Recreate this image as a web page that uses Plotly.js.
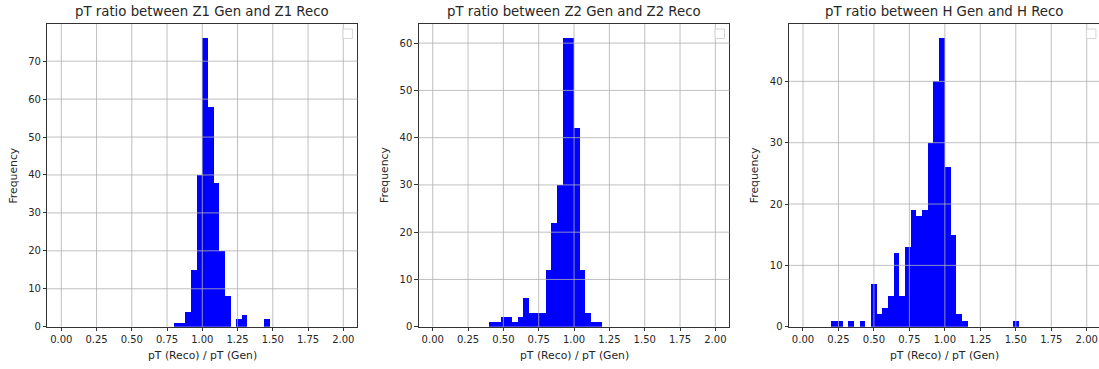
<!DOCTYPE html>
<html>
<head>
<meta charset="utf-8">
<script src="https://cdn.plot.ly/plotly-3.0.1.min.js"></script>
<style>
html,body{margin:0;padding:0;overflow:hidden;background:#fff;}
#chart{width:1102px;height:369px;}
</style>
</head>
<body>
<div id="chart"></div>
<script>
// ---- data (bin left edges and counts) ----
var titles = ["pT ratio between Z1 Gen and Z1 Reco",
              "pT ratio between Z2 Gen and Z2 Reco",
              "pT ratio between H Gen and H Reco"];
var xLabel = "pT (Reco) / pT (Gen)";
var yLabel = "Frequency";

var z1Bins   = [0.80,0.84,0.88,0.92,0.96,1.00,1.04,1.08,1.12,1.16,1.24,1.28,1.44];
var z1Counts = [1,1,4,15,40,76,58,38,20,8,2,3,2];

var z2Bins   = [0.40,0.44,0.48,0.52,0.56,0.60,0.64,0.68,0.72,0.76,0.80,0.84,0.88,0.92,0.96,1.00,1.04,1.08,1.12,1.16];
var z2Counts = [1,1,2,2,1,2,6,3,3,3,12,22,30,61,61,42,12,3,1,1];

var hBins    = [0.20,0.24,0.32,0.40,0.48,0.52,0.56,0.60,0.64,0.68,0.72,0.76,0.80,0.84,0.88,0.92,0.96,1.00,1.04,1.08,1.12,1.48];
var hCounts  = [1,1,1,1,7,2,3,5,12,5,13,19,18,19,30,40,47,26,15,2,1,1];

var xTicks  = [0,0.25,0.5,0.75,1,1.25,1.5,1.75,2];
var z1YTicks = [0,10,20,30,40,50,60,70];
var z2YTicks = [0,10,20,30,40,50,60];
var hYTicks  = [0,10,20,30,40];

// ---- layout ----
var W = 1102, H = 369;
var binWidth = 0.04;
var series = [
  {bins:z1Bins, counts:z1Counts, yt:z1YTicks, dom:[47.2,357.4]},
  {bins:z2Bins, counts:z2Counts, yt:z2YTicks, dom:[418.6,729.5]},
  {bins:hBins,  counts:hCounts,  yt:hYTicks,  dom:[788.8,1100.9]}
];
var yTop = 24, yBot = 326.7;
var ydom = [(H - yBot)/H, (H - yTop)/H];
var txtColor = '#262626';
var font = 'DejaVu Sans, sans-serif';

var data = [], shapes = [], annotations = [];
var layout = {
  width: W, height: H,
  margin: {l:0, r:0, t:0, b:0, pad:0},
  paper_bgcolor: '#fff', plot_bgcolor: '#fff',
  showlegend: false,
  bargap: 0,
  font: {family: font, color: txtColor, size: 10}
};

series.forEach(function(s, i){
  var sfx = i === 0 ? '' : String(i+1);
  var maxC = Math.max.apply(null, s.counts);
  data.push({
    type: 'bar', x: s.bins, y: s.counts,
    xaxis: 'x'+sfx, yaxis: 'y'+sfx,
    width: binWidth, offset: 0,
    marker: {color: '#0000ff', line: {width: 0}},
    hoverinfo: 'skip'
  });
  var common = {
    showline: true, mirror: true, linecolor: '#000', linewidth: 0.8,
    ticks: 'outside', ticklen: 3.5, tickwidth: 0.8, tickcolor: '#000',
    showgrid: false, zeroline: false, automargin: false,
    tickfont: {family: font, size: 10, color: txtColor},
    fixedrange: true
  };
  layout['xaxis'+sfx] = Object.assign({}, common, {
    domain: [s.dom[0]/W, s.dom[1]/W], anchor: 'y'+sfx,
    range: [-0.1, 2.1], tickmode: 'array', tickvals: xTicks,
    ticktext: xTicks.map(function(v){return v.toFixed(2);})
  });
  layout['yaxis'+sfx] = Object.assign({}, common, {
    domain: ydom, anchor: 'x'+sfx,
    range: [0, maxC*1.05], tickmode: 'array', tickvals: s.yt,
    ticktext: s.yt.map(String)
  });
  // gridlines above the bars (as matplotlib draws them)
  xTicks.forEach(function(t){
    shapes.push({type:'line', xref:'x'+sfx, yref:'y'+sfx+' domain',
      x0:t, x1:t, y0:0, y1:1, layer:'above',
      line:{color:'#b0b0b0', width:0.8}});
  });
  s.yt.forEach(function(t){
    if (t === 0) return;
    shapes.push({type:'line', xref:'x'+sfx+' domain', yref:'y'+sfx,
      x0:0, x1:1, y0:t, y1:t, layer:'above',
      line:{color:'#b0b0b0', width:0.8}});
  });
  // empty legend box
  shapes.push({type:'rect', xref:'x'+sfx+' domain', yref:'y'+sfx+' domain',
    xsizemode:'pixel', ysizemode:'pixel', xanchor:1, yanchor:1,
    x0:-14.5, x1:-5, y0:-14.5, y1:-5, layer:'above',
    fillcolor:'rgba(255,255,255,0.8)', line:{color:'#d6d6d6', width:1}});
  var cx = (s.dom[0] + s.dom[1]) / 2;
  annotations.push({text: titles[i], xref:'paper', yref:'paper',
    x: cx/W, y: 1 - 12/H, xanchor:'center', yanchor:'middle', showarrow:false,
    font:{family:font, size:13.3, color:txtColor}});
  annotations.push({text: xLabel, xref:'paper', yref:'paper',
    x: cx/W, y: 1 - 355/H, xanchor:'center', yanchor:'middle', showarrow:false,
    font:{family:font, size:10.8, color:txtColor}});
  annotations.push({text: yLabel, xref:'paper', yref:'paper', textangle:-90,
    x: (s.dom[0] - 34)/W, y: (ydom[0]+ydom[1])/2, xanchor:'center', yanchor:'middle', showarrow:false,
    font:{family:font, size:10.8, color:txtColor}});
});
layout.shapes = shapes;
layout.annotations = annotations;

Plotly.newPlot('chart', data, layout, {staticPlot: true, displayModeBar: false});
</script>
</body>
</html>
